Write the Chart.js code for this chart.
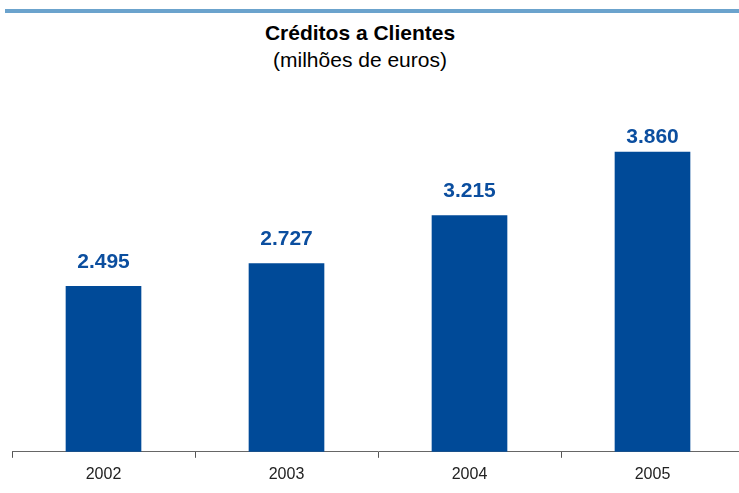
<!DOCTYPE html>
<html><head><meta charset="utf-8">
<script src="https://cdn.jsdelivr.net/npm/chart.js@4"></script>
<style>
html,body{margin:0;padding:0;background:#fff;overflow:hidden;width:739px;height:493px;}
#wrap{position:absolute;left:0;top:0;width:760px;height:493px;}
#topline{position:absolute;left:5px;top:9px;width:740px;height:4px;background:#6ba3cd;}
#t1{position:absolute;left:0;width:720px;top:21px;text-align:center;font:bold 21px "Liberation Sans",Arial,sans-serif;color:#000;}
#t2{position:absolute;left:0;width:720px;top:48px;text-align:center;font:21px "Liberation Sans",Arial,sans-serif;color:#000;}
</style></head>
<body>
<div id="topline"></div>
<div id="t1">Créditos a Clientes</div>
<div id="t2">(milhões de euros)</div>
<div id="wrap"><canvas id="c" width="760" height="493"></canvas></div>
<script>
const categories = ["2002", "2003", "2004", "2005"];
const values = [2495, 2727, 3215, 3860];
const valueLabels = ["2.495", "2.727", "3.215", "3.860"];

const labelPlugin = {
  id: 'valLabels',
  afterDatasetsDraw(chart) {
    const ctx = chart.ctx;
    const meta = chart.getDatasetMeta(0);
    const minY = chart.chartArea.top + 37;
    ctx.save();
    ctx.font = 'bold 21px "Liberation Sans", Arial, sans-serif';
    ctx.fillStyle = '#0b4e9f';
    ctx.textAlign = 'center';
    ctx.textBaseline = 'middle';
    meta.data.forEach((bar, i) => {
      ctx.fillText(valueLabels[i], bar.x, Math.max(bar.y - 24.5, minY));
    });
    ctx.restore();
  }
};

new Chart(document.getElementById('c'), {
  type: 'bar',
  data: {
    labels: categories,
    datasets: [{
      data: values,
      backgroundColor: '#004a98',
      borderWidth: 0,
      barThickness: 75
    }]
  },
  options: {
    responsive: false,
    animation: false,
    layout: { padding: { left: 12, right: 16, top: 100, bottom: 2 } },
    plugins: { legend: { display: false }, tooltip: { enabled: false }, title: { display: false } },
    scales: {
      y: { display: false, min: 814, max: 4390 },
      x: {
        offset: true,
        grid: { offset: true, drawOnChartArea: false, drawTicks: true, tickLength: 6, color: '#555', tickWidth: 1 },
        border: { display: true, color: '#666', width: 1 },
        ticks: { color: '#222', font: { family: '"Liberation Sans", Arial, sans-serif', size: 16 }, padding: 7 }
      }
    }
  },
  plugins: [labelPlugin]
});
</script>
</body></html>
